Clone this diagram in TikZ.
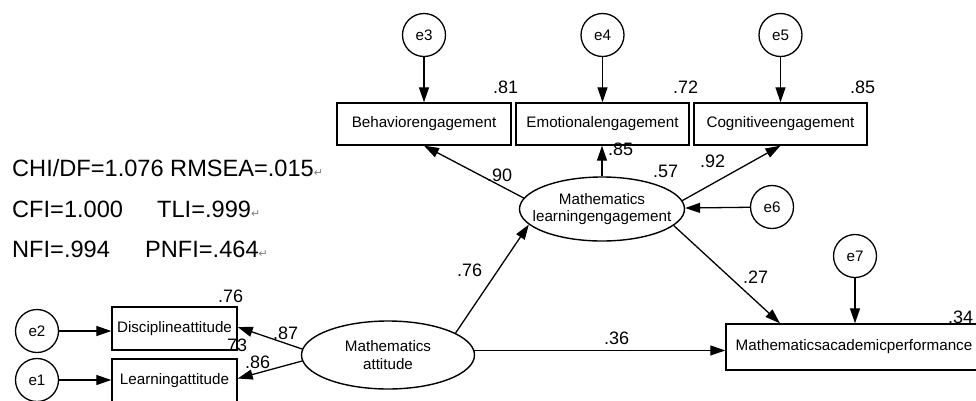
\documentclass[tikz,border=0pt]{standalone}
\usepackage{fontspec}
\setmainfont{Liberation Sans}
\newfontfamily\dejavu{DejaVu Sans}
\usetikzlibrary{arrows.meta,shapes.geometric}
\begin{document}
\begin{tikzpicture}[x=1pt,y=-1pt,
 obs/.style={draw, line width=1.4pt, inner sep=0pt, font=\fontsize{15.2}{17}\selectfont, minimum height=42pt},
 err/.style={draw, circle, line width=1.3pt, minimum size=43pt, inner sep=0pt, font=\fontsize{15.2}{17}\selectfont},
 lat/.style={draw, ellipse, line width=1.4pt, inner sep=0pt},
 lattext/.style={align=center, inner sep=0pt, font=\fontsize{15.2}{17.5}\selectfont},
 arr/.style={-{Triangle[length=15pt,width=10pt]}, line width=1.3pt},
 num/.style={font=\fontsize{18}{18}\selectfont, inner sep=0pt, anchor=base west},
 stat/.style={font=\fontsize{23.6}{24}\selectfont, inner sep=0pt, anchor=base west},
]
\useasboundingbox (0,0) rectangle (976,400);
\newcommand{\pmark}{{\dejavu\fontsize{11}{11}\selectfont\color{gray}↵}}
% observed
\node[obs, minimum width=174pt] (BE) at (424,124) {Behaviorengagement};
\node[obs, minimum width=173pt] (EE) at (602.5,124) {Emotionalengagement};
\node[obs, minimum width=173pt] (CE) at (780.5,124) {Cognitiveengagement};
\node[obs, minimum width=125pt, minimum height=43pt] (DA) at (174.5,328.5) {Disciplineattitude};
\node[obs, minimum width=125pt, minimum height=43pt] (LA) at (174.5,380.5) {Learningattitude};
\node[obs, minimum width=256pt, minimum height=46pt] (MAP) at (854,347) {Mathematicsacademicperformance};
% errors
\node[err] (e3) at (424,35) {e3};
\node[err] (e4) at (602.5,35) {e4};
\node[err] (e5) at (780.5,35) {e5};
\node[err] (e6) at (772,207) {e6};
\node[err] (e7) at (855,256) {e7};
\node[err] (e2) at (37,331) {e2};
\node[err] (e1) at (37,380) {e1};
% latent
\node[lat, minimum width=165pt, minimum height=64pt] (MLE) at (602,209) {};
\node[lattext] (MLEt) at (MLE) {Mathematics\\learningengagement};
\node[lat, minimum width=173pt, minimum height=68pt] (MA) at (388,355) {};
\node[lattext] (MAt) at (MA) {Mathematics\\attitude};
% error arrows
\draw[arr] (e3) -- (e3 |- BE.north);
\draw[arr] (e4) -- (e4 |- EE.north);
\draw[arr] (e5) -- (e5 |- CE.north);
\draw[arr] (e7) -- (e7 |- MAP.north);
\draw[arr] (e2) -- (e2 -| DA.west);
\draw[arr] (e1) -- (e1 -| LA.west);
\draw[arr] (e6) -- (MLE);
% structural arrows
\draw[arr] (MLE.172) -- (BE.south);
\draw[arr] (MLE.north) -- (MLE.north |- EE.south);
\draw[arr] (MLE.6) -- (CE.south);
\draw[arr] (MLE.-13) -- ([xshift=-74pt]MAP.north);
\draw[arr] (MA.18) -- (MLE.192);
\draw[arr] (MA.3) -- (MA.3 -| MAP.west);
\draw[arr] (MA.176) -- ([yshift=1.5pt]DA.east);
\draw[arr] (MA.184) -- ([yshift=2pt]LA.east);
% numbers
\node[num] (r81) at (493,93) {.81};
\node[num] (r72) at (673,93) {.72};
\node[num] (r85) at (850,93) {.85};
\node[num] (r76) at (218,302) {.76};
\node[num] (r73) at (222,351) {.73};
\node[num] (r34) at (948,323) {.34};
\node[num] (p87) at (273,339) {.87};
\node[num] (p86) at (245,368) {.86};
\node[num] (p90) at (487,181) {.90};
\node[num] (p85) at (608,155) {.85};
\node[num] (p57) at (653,177) {.57};
\node[num] (p92) at (700,167) {.92};
\node[num] (p76) at (457,276) {.76};
\node[num] (p36) at (604,344) {.36};
\node[num] (p27) at (743,283) {.27};
% fit statistics
\node[stat] (s1) at (12,176) {CHI/DF=1.076 RMSEA=.015\pmark};
\node[stat] (s2) at (12,217.5) {CFI=1.000};
\node[stat] (s3) at (157,217.5) {TLI=.999\pmark};
\node[stat] (s4) at (12,257.5) {NFI=.994};
\node[stat] (s5) at (145,257.5) {PNFI=.464\pmark};
\end{tikzpicture}
\end{document}
